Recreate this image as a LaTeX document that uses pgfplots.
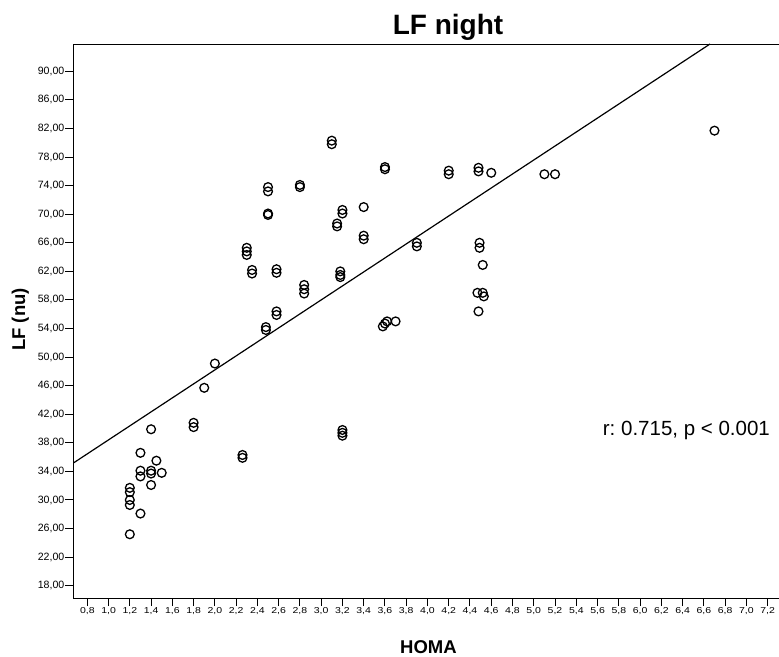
\documentclass[border=0pt]{standalone}
\usepackage{pgfplots}
\pgfplotsset{compat=1.18}
\usepackage{fontspec}
\setmainfont{Liberation Sans}
\begin{document}
\frenchspacing
\begin{tikzpicture}[x=1pt,y=1pt]
\useasboundingbox (0,0) rectangle (779,656);
\begin{axis}[
  at={(73pt,58pt)}, anchor=south west,
  scale only axis, width=706pt, height=554pt,
  xmin=0.6655, xmax=7.307, ymin=16.28, ymax=93.83,
  axis x line*=bottom, axis y line*=left,
  axis line style={-, line width=0.8pt, black},
  xtick={0.8,1.0,...,7.21}, ytick={18,22,...,90},
  tick align=outside, major tick length=8pt,
  tick style={black, line width=1pt},
  xticklabel style={font=\fontsize{8.6}{9}\selectfont, xscale=1.22, inner sep=1.5pt, /pgf/number format/fixed, /pgf/number format/fixed zerofill, /pgf/number format/precision=1, /pgf/number format/use comma, /pgf/number format/assume math mode=true},
  yticklabel style={font=\fontsize{10.6}{11}\selectfont, inner sep=0.5pt, /pgf/number format/fixed, /pgf/number format/fixed zerofill, /pgf/number format/precision=2, /pgf/number format/use comma, /pgf/number format/assume math mode=true},
  clip mode=individual,
]
\draw[line width=0.8pt] (rel axis cs:0,1) -- (rel axis cs:1,1);
\addplot[only marks, mark=o, mark size=4.4pt, mark options={line width=1.3pt, black}] coordinates {
(1.2,31.7) (1.2,31.1) (1.2,30.0) (1.2,29.3) (1.2,25.2)
(1.3,36.6) (1.3,34.1) (1.3,33.3) (1.3,28.1)
(1.4,39.9) (1.4,34.1) (1.4,33.7) (1.4,32.1)
(1.45,35.5) (1.5,33.8)
(1.8,40.8) (1.8,40.2) (1.9,45.7) (2.0,49.1)
(2.26,36.3) (2.26,35.9)
(2.3,65.3) (2.3,64.8) (2.3,64.3)
(2.35,62.2) (2.35,61.7)
(2.48,54.2) (2.48,53.8)
(2.5,73.8) (2.5,73.2) (2.5,70.1) (2.5,69.9)
(2.58,62.3) (2.58,61.8) (2.58,56.4) (2.58,55.9)
(2.8,74.1) (2.8,73.8)
(2.84,60.1) (2.84,59.5) (2.84,58.9)
(3.1,80.3) (3.1,79.8)
(3.15,68.7) (3.15,68.3)
(3.18,62.0) (3.18,61.5) (3.18,61.2)
(3.2,70.6) (3.2,70.1)
(3.2,39.8) (3.2,39.4) (3.2,39.0)
(3.4,71.0) (3.4,67.0) (3.4,66.5)
(3.58,54.3) (3.6,54.7) (3.62,55.0) (3.7,55.0)
(3.6,76.6) (3.6,76.3)
(3.9,66.0) (3.9,65.5)
(4.2,76.1) (4.2,75.6)
(4.48,76.5) (4.48,76.0) (4.6,75.8)
(4.49,66.0) (4.49,65.3) (4.52,62.9)
(4.47,59.0) (4.52,59.0) (4.53,58.5) (4.48,56.4)
(5.1,75.6) (5.2,75.6)
(6.7,81.7)
};
\addplot[black, line width=1.2pt, no marks] coordinates {(0.6655,35.14) (6.658,93.83)};
\end{axis}
\node[anchor=base, font=\fontsize{28}{30}\selectfont\bfseries, inner sep=0pt] at (448,621) {LF night};
\node[anchor=base, font=\fontsize{18.5}{20}\selectfont\bfseries, inner sep=0pt] at (428.5,3) {HOMA};
\node[anchor=base, rotate=90, font=\fontsize{18.5}{20}\selectfont\bfseries, inner sep=0pt] at (25,336.5) {LF (nu)};
\node[anchor=base west, font=\fontsize{20.5}{22}\selectfont, inner sep=0pt] at (602.7,220) {r: 0.715, p < 0.001};
\end{tikzpicture}
\end{document}
